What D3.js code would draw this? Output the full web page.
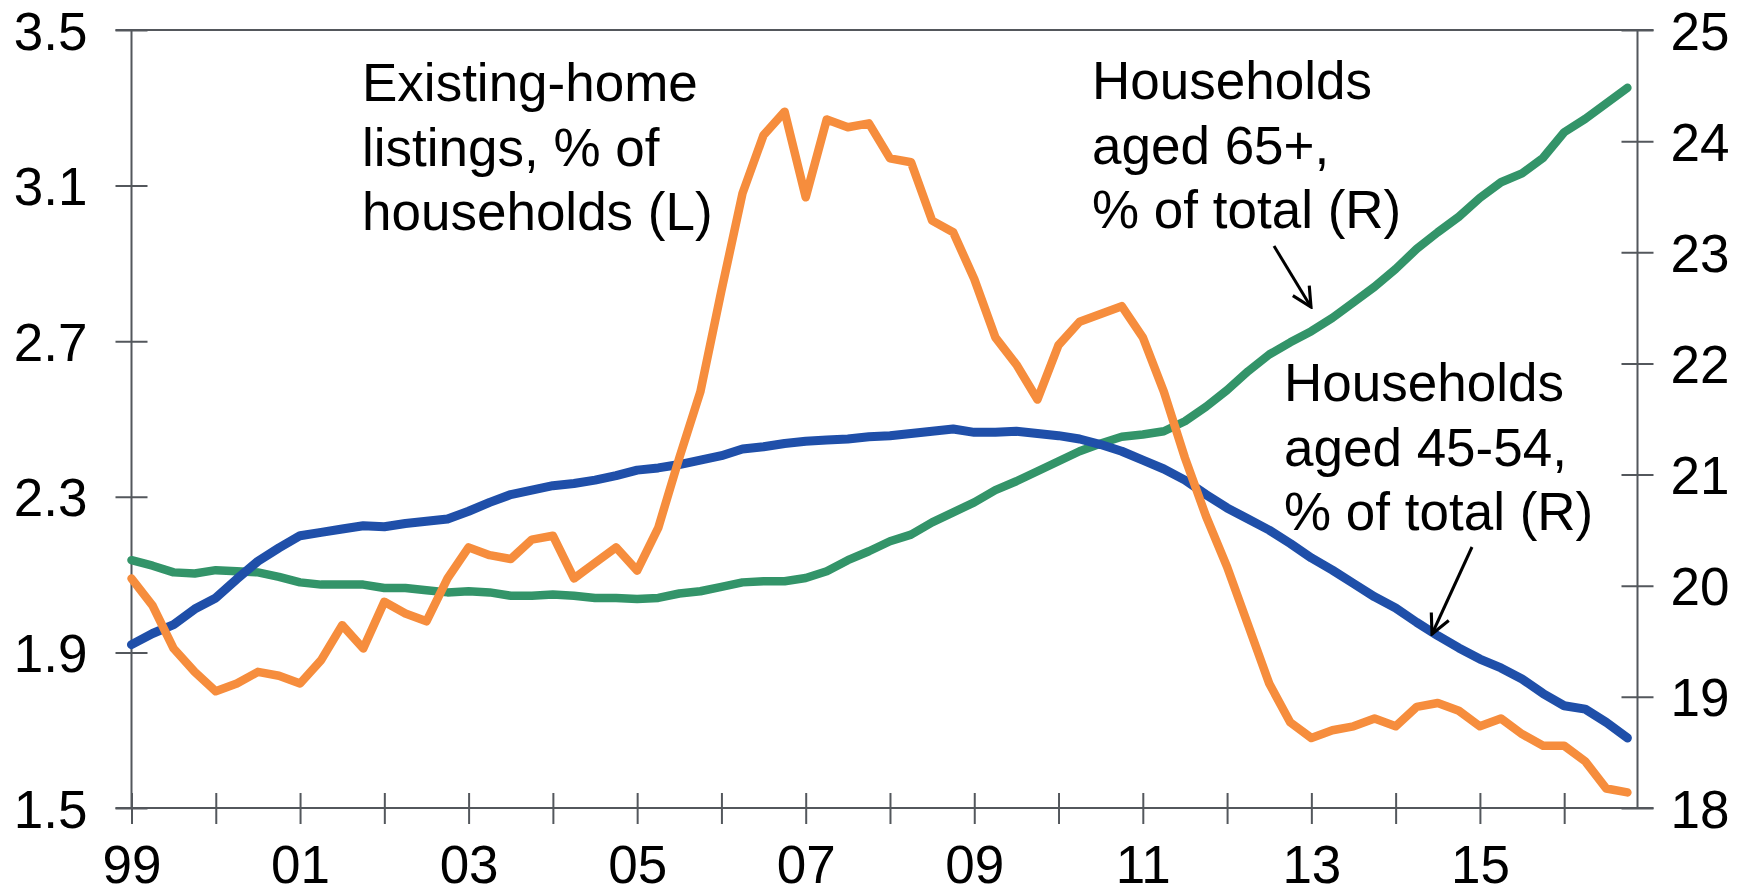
<!DOCTYPE html>
<html>
<head>
<meta charset="utf-8">
<script src="https://cdn.jsdelivr.net/npm/d3@7"></script>
<style>
  body { margin: 0; background: #fff; }
  svg text { font-family: "Liberation Sans", Arial, sans-serif; fill: #000; }
</style>
</head>
<body>
<svg id="chart" width="1762" height="895"></svg>
<script>
// quarterly, 1999Q1 .. 2016Q4
const startYear = 1999;
const listings = [
  2.09, 2.02, 1.91, 1.85, 1.80, 1.82, 1.85, 1.84,
  1.82, 1.88, 1.97, 1.91, 2.03, 2.00, 1.98, 2.09,
  2.17, 2.15, 2.14, 2.19, 2.20, 2.09, 2.13, 2.17,
  2.11, 2.22, 2.40, 2.57, 2.83, 3.08, 3.23, 3.29,
  3.07, 3.27, 3.25, 3.26, 3.17, 3.16, 3.01, 2.98,
  2.86, 2.71, 2.64, 2.55, 2.69, 2.75, 2.77, 2.79,
  2.71, 2.57, 2.40, 2.25, 2.12, 1.97, 1.82, 1.72,
  1.68, 1.70, 1.71, 1.73, 1.71, 1.76, 1.77, 1.75,
  1.71, 1.73, 1.69, 1.66, 1.66, 1.62, 1.55, 1.54
];
const aged65 = [
  20.23, 20.18, 20.12, 20.11, 20.14, 20.13, 20.12, 20.08,
  20.03, 20.01, 20.01, 20.01, 19.98, 19.98, 19.96, 19.94,
  19.95, 19.94, 19.91, 19.91, 19.92, 19.91, 19.89, 19.89,
  19.88, 19.89, 19.93, 19.95, 19.99, 20.03, 20.04, 20.04,
  20.07, 20.13, 20.23, 20.31, 20.40, 20.46, 20.57, 20.66,
  20.75, 20.86, 20.94, 21.03, 21.12, 21.21, 21.28, 21.34,
  21.36, 21.39, 21.48, 21.61, 21.76, 21.93, 22.08, 22.19,
  22.29, 22.41, 22.55, 22.69, 22.85, 23.03, 23.18, 23.32,
  23.49, 23.63, 23.71, 23.85, 24.08, 24.20, 24.34, 24.48
];
const aged4554 = [
  19.47, 19.57, 19.65, 19.79, 19.89, 20.06, 20.22, 20.34,
  20.45, 20.48, 20.51, 20.54, 20.53, 20.56, 20.58, 20.60,
  20.67, 20.75, 20.82, 20.86, 20.90, 20.92, 20.95, 20.99,
  21.04, 21.06, 21.09, 21.13, 21.17, 21.23, 21.25, 21.28,
  21.30, 21.31, 21.32, 21.34, 21.35, 21.37, 21.39, 21.41,
  21.38, 21.38, 21.39, 21.37, 21.35, 21.32, 21.27, 21.21,
  21.13, 21.05, 20.95, 20.82, 20.70, 20.60, 20.50, 20.38,
  20.25, 20.14, 20.02, 19.90, 19.80, 19.67, 19.55, 19.44,
  19.34, 19.26, 19.16, 19.03, 18.92, 18.89, 18.77, 18.63
];
const leftTicks = [1.5, 1.9, 2.3, 2.7, 3.1, 3.5];
const rightTicks = [18, 19, 20, 21, 22, 23, 24, 25];
const yearTicks = d3.range(1999, 2017);
const yearLabels = ["99", "01", "03", "05", "07", "09", "11", "13", "15"];

const notes = [
  { lines: ["Existing-home", "listings, % of", "households (L)"], x: 362, y: 101 },
  { lines: ["Households", "aged 65+,", "% of total (R)"], x: 1092, y: 99 },
  { lines: ["Households", "aged 45-54,", "% of total (R)"], x: 1284, y: 401 }
];

const svg = d3.select("#chart");
const mLeft = 131.5, mRight = 1637.5, mTop = 30, mBottom = 808;
const axisColor = "#53575c";
const fontSize = 53;

const x = d3.scaleLinear().domain([1999, 2016.87]).range([mLeft, mRight]);
const yL = d3.scaleLinear().domain([1.5, 3.5]).range([mBottom, mTop]);
const yR = d3.scaleLinear().domain([18, 25]).range([mBottom, mTop]);

const qx = (i) => x(startYear + i / 4);

// frame top
svg.append("line")
  .attr("x1", mLeft - 16).attr("x2", mRight + 16)
  .attr("y1", mTop).attr("y2", mTop)
  .attr("stroke", axisColor).attr("stroke-width", 2);

// left axis
const gL = svg.append("g").attr("transform", `translate(${mLeft},0)`)
  .call(d3.axisLeft(yL).tickValues(leftTicks).tickSize(16).tickFormat(d3.format(".1f")));
gL.selectAll(".tick line").attr("x1", 16);
gL.selectAll("text").attr("x", -44).attr("dy", "0.36em");

// right axis
const gR = svg.append("g").attr("transform", `translate(${mRight},0)`)
  .call(d3.axisRight(yR).tickValues(rightTicks).tickSize(16).tickFormat(d3.format("d")));
gR.selectAll(".tick line").attr("x1", -16);
gR.selectAll("text").attr("x", 33).attr("dy", "0.36em");

// bottom axis
const gB = svg.append("g").attr("transform", `translate(0,${mBottom})`)
  .call(d3.axisBottom(x).tickValues(yearTicks).tickSize(16)
    .tickFormat(d => (d - 1999) % 2 === 0 ? yearLabels[(d - 1999) / 2] : ""));
gB.selectAll(".tick line").attr("y1", -15);
gB.selectAll("text").attr("y", 37).attr("dy", "0.71em");
gB.select(".domain").attr("d", `M${mLeft - 16},0H${mRight + 16}`);

[gL, gR].forEach(g => g.select(".domain").attr("d", `M0,${mTop}V${mBottom}`));
[gL, gR, gB].forEach(g => {
  g.attr("font-size", null).attr("font-family", null);
  g.selectAll("line, path").attr("stroke", axisColor).attr("stroke-width", 2);
  g.selectAll("text").style("font-size", fontSize + "px").attr("fill", "#000");
});

// series
const lineL = d3.line().x((d, i) => qx(i)).y(d => yL(d));
const lineR = d3.line().x((d, i) => qx(i)).y(d => yR(d));

svg.append("path").datum(aged65).attr("d", lineR)
  .attr("fill", "none").attr("stroke", "#339469").attr("stroke-width", 8.5)
  .attr("stroke-linejoin", "round").attr("stroke-linecap", "round");
svg.append("path").datum(aged4554).attr("d", lineR)
  .attr("fill", "none").attr("stroke", "#1f4fa9").attr("stroke-width", 9)
  .attr("stroke-linejoin", "round").attr("stroke-linecap", "round");
svg.append("path").datum(listings).attr("d", lineL)
  .attr("fill", "none").attr("stroke", "#f68d3d").attr("stroke-width", 8.5)
  .attr("stroke-linejoin", "round").attr("stroke-linecap", "round");

// annotations
notes.forEach(n => {
  const txt = svg.append("text").attr("x", n.x).attr("y", n.y)
    .style("font-size", fontSize + "px");
  n.lines.forEach((l, i) => {
    txt.append("tspan").attr("x", n.x).attr("dy", i === 0 ? 0 : 64.6).text(l);
  });
});

// arrows
svg.append("defs").append("marker")
  .attr("id", "arrow").attr("viewBox", "0 0 10 10")
  .attr("refX", 9).attr("refY", 5)
  .attr("markerWidth", 8).attr("markerHeight", 8)
  .attr("markerUnits", "strokeWidth")
  .attr("orient", "auto")
  .append("path").attr("d", "M1,1L9,5L1,9")
  .attr("fill", "none").attr("stroke", "#000").attr("stroke-width", 1.3)
  .attr("stroke-linejoin", "miter");

const arrows = [
  [1274, 246, 1311, 307],
  [1472, 547, 1432, 634]
];
arrows.forEach(a => {
  svg.append("line")
    .attr("x1", a[0]).attr("y1", a[1]).attr("x2", a[2]).attr("y2", a[3])
    .attr("stroke", "#000").attr("stroke-width", 3)
    .attr("marker-end", "url(#arrow)");
});
</script>
</body>
</html>
